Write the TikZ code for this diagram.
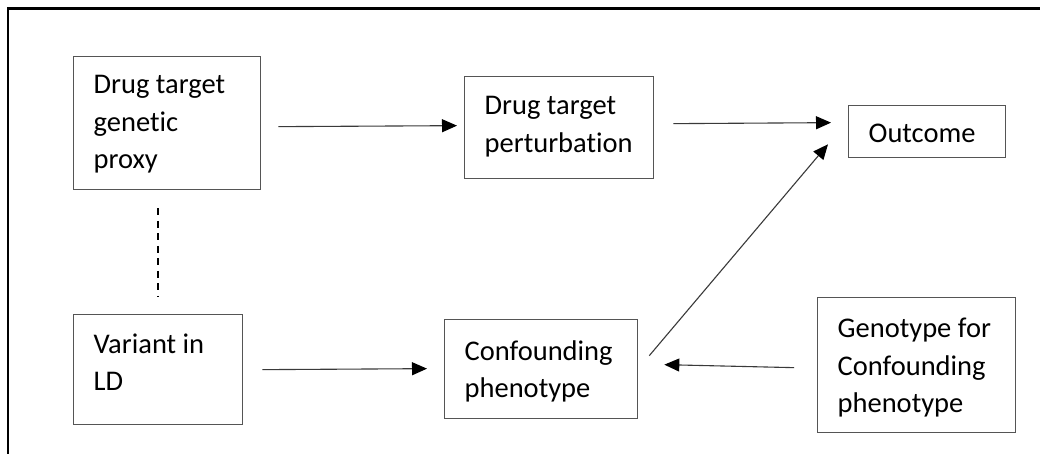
\documentclass[tikz,border=0pt]{standalone}
\usepackage{fontspec}
\setmainfont{Carlito}[Ligatures=NoCommon]
\usetikzlibrary{arrows.meta,calc}
\tikzset{
  box/.style={draw=boxgray, line width=1.3pt, rectangle, anchor=north west, inner xsep=20pt,
    font=\fontsize{28.5}{37.5}\selectfont, text=black},
  arr/.style={draw=linegray, line width=1.1pt, -{Triangle[length=15pt,width=13pt,color=black]}},
  frame/.style={line width=2.6pt, black},
  dashline/.style={line width=1.4pt, black, dash pattern=on 7pt off 5.5pt}
}
\definecolor{boxgray}{HTML}{555555}
\definecolor{linegray}{HTML}{3A3A3A}
\begin{document}
\begin{tikzpicture}[x=1pt,y=-1pt]
\path[use as bounding box, fill=white] (0,0) rectangle (1040,454);
\draw[frame] (8,454) -- (8,8.5) -- (1040,8.5);

\node[box, inner ysep=18.6pt] (b1) at (73,56)
  {\parbox[c][95.8pt][t]{147pt}{Drug target\\genetic\\proxy}};
\node[box, inner ysep=19pt] (var) at (73,314)
  {\parbox[c][72pt][t]{129pt}{Variant in\\LD}};
\node[box, inner ysep=19.6pt] (b3) at (464,76)
  {\parbox[c][62.8pt][t]{149pt}{Drug target\\perturbation}};
\node[box, inner ysep=18.3pt] (out) at (848,105)
  {\parbox[c][15.4pt][t]{117pt}{Outcome}};
\node[box, inner ysep=21pt] (conf) at (444,319)
  {\parbox[c][57pt][t]{153pt}{Confounding\\phenotype}};
\node[box, inner ysep=20.5pt] (geno) at (817,297)
  {\parbox[c][94pt][t]{158pt}{Genotype for\\Confounding\\phenotype}};

\draw[arr] ($(b1.east)+(17,3.5)$) -- ($(b3.west)+(-7,-2)$);
\draw[arr] ($(b3.east)+(19,-4)$) -- ($(out.west)+(-17,-9)$);
\draw[arr] ($(var.east)+(19,0)$) -- ($(conf.west)+(-17,-0.5)$);
\draw[arr] ($(conf.east)+(11,-13.5)$) -- ($(out.south west)+(-20,-14)$);
\draw[arr] ($(geno.west)+(-23,2.5)$) -- ($(conf.east)+(26,-4.5)$);
\draw[dashline] ($(b1.south -| var.north)+(0,18)$) -- ($(var.north)+(0,-18)$);
\end{tikzpicture}
\end{document}
